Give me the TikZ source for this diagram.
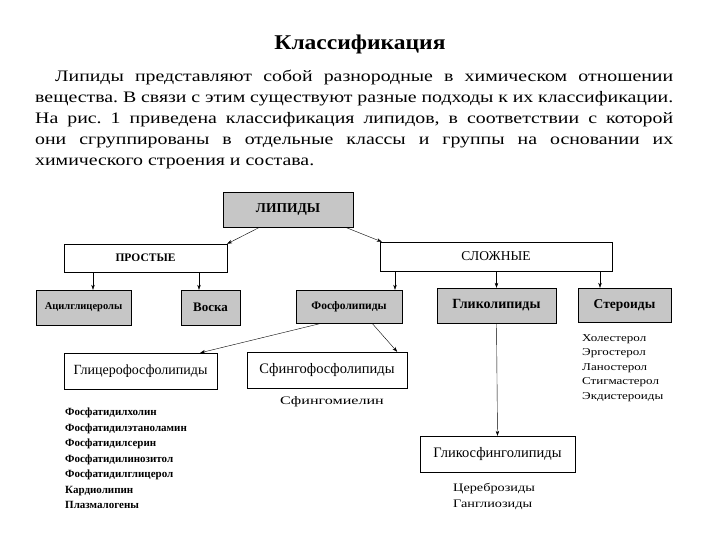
\documentclass[tikz,border=0pt]{standalone}
\usepackage{fontspec}
\setmainfont{Liberation Serif}
\newfontfamily\widefont[FakeStretch=1.24]{Liberation Serif}
\newfontfamily\xwidefont[FakeStretch=1.4]{Liberation Serif}
\usetikzlibrary{arrows.meta, calc}
\definecolor{boxgray}{RGB}{198,198,198}
\frenchspacing

\begin{document}
\begin{tikzpicture}[x=1pt, y=-1pt, >={Stealth[length=5pt, width=3.5pt]},
		gbox/.style={draw, thin, fill=boxgray, inner sep=0pt},
		wbox/.style={draw, thin, fill=white, inner sep=0pt},
		items/.style={align=left, inner sep=0pt, anchor=north west}]
		\useasboundingbox (0,0) rectangle (720,540);
		% heading and text
		\node[font=\bfseries\fontsize{21}{23}\selectfont, xscale=1.12] (title) at (360,44) {Классификация};
		\node[anchor=north west, inner sep=0pt, text width=638pt, align=justify,
			font=\widefont\fontsize{16}{21}\selectfont] (intro) at (35,70)
			{\hspace*{20pt}Липиды представляют собой разнородные в химическом отношении\linebreak
			вещества. В связи с этим существуют разные подходы к их классификации.\linebreak
			На рис. 1 приведена классификация липидов, в соответствии с которой\linebreak
			они сгруппированы в отдельные классы и группы на основании их\linebreak
			химического строения и состава.};
		% top levels
		\node[gbox, font=\bfseries\fontsize{13.5}{15}\selectfont, minimum width=130pt, minimum height=35pt] (lipid) at (288,209.5) {ЛИПИДЫ};
		\node[wbox, font=\bfseries\fontsize{11.5}{13}\selectfont, minimum width=163pt, minimum height=28pt] (prost) at (145.5,258) {ПРОСТЫЕ};
		\node[wbox, font=\fontsize{13.5}{15}\selectfont, minimum width=232pt, minimum height=29pt] (slozh) at (496,256.5) {СЛОЖНЫЕ};
		% classes
		\node[gbox, font=\bfseries\fontsize{10.5}{12}\selectfont, minimum width=95pt, minimum height=35pt] (acyl) at (83.5,307.5) {Ацилглицеролы};
		\node[gbox, font=\bfseries\fontsize{13}{15}\selectfont, minimum width=59pt, minimum height=35pt] (vosk) at (210.5,307.5) {Воска};
		\node[gbox, font=\bfseries\fontsize{11.5}{13}\selectfont, minimum width=106pt, minimum height=33pt] (fosfo) at (349,306.5) {Фосфолипиды};
		\node[gbox, font=\bfseries\fontsize{14}{16}\selectfont, minimum width=119pt, minimum height=35pt] (glikolip) at (496.5,305.5) {Гликолипиды};
		\node[gbox, font=\bfseries\fontsize{13.5}{15}\selectfont, minimum width=93pt, minimum height=34pt] (steroid) at (624.5,305) {Стероиды};
		% groups
		\node[wbox, font=\fontsize{14}{16}\selectfont, minimum width=153pt, minimum height=36pt] (glicero) at (140.5,371) {Глицерофосфолипиды};
		\node[wbox, font=\fontsize{14.5}{16}\selectfont, minimum width=160pt, minimum height=36pt] (sfingo) at (327,370) {Сфингофосфолипиды};
		\node[wbox, font=\fontsize{14.5}{16}\selectfont, minimum width=155pt, minimum height=36pt] (glikosf) at (497.5,454) {Гликосфинголипиды};
		% members
		\node[font=\xwidefont\fontsize{11.5}{13}\selectfont] (sfmiel) at (332,402) {Сфингомиелин};
		\node[items, font=\bfseries\fontsize{11}{15.5}\selectfont] (fosflist) at (65,408)
			{Фосфатидилхолин\\Фосфатидилэтаноламин\\Фосфатидилсерин\\Фосфатидилинозитол\\Фосфатидилглицерол\\Кардиолипин\\Плазмалогены};
		\node[items, font=\widefont\fontsize{10.5}{14.5}\selectfont] (sterlist) at (582,334)
			{Холестерол\\Эргостерол\\Ланостерол\\Стигмастерол\\Экдистероиды};
		\node[items, font=\widefont\fontsize{11.5}{16}\selectfont] (glsflist) at (453,483)
			{Цереброзиды\\Ганглиозиды};
		% arrows
		\draw[->] ([xshift=37pt]lipid.south west) -- (prost.north east);
		\draw[->] ([xshift=-8pt]lipid.south east) -- ([xshift=2pt]slozh.north west);
		\draw[->] ([xshift=9.5pt]acyl.north |- prost.south) -- ([xshift=9.5pt]acyl.north);
		\draw[->] ([xshift=-11.5pt]vosk.north |- prost.south) -- ([xshift=-11.5pt]vosk.north);
		\draw[->] ([xshift=46pt]fosfo.north |- slozh.south) -- ([xshift=46pt]fosfo.north);
		\draw[->] (glikolip.north |- slozh.south) -- (glikolip.north);
		\draw[->] ([xshift=-24.5pt]steroid.north |- slozh.south) -- ([xshift=-24.5pt]steroid.north);
		\draw[->] ([xshift=26pt]fosfo.south west) -- ([xshift=-17pt]glicero.north east);
		\draw[->] ([xshift=23pt]fosfo.south) -- ([xshift=-10pt]sfingo.north east);
		\draw[->] (glikolip.south) -- (glikosf.north);
	\end{tikzpicture}
\end{document}
